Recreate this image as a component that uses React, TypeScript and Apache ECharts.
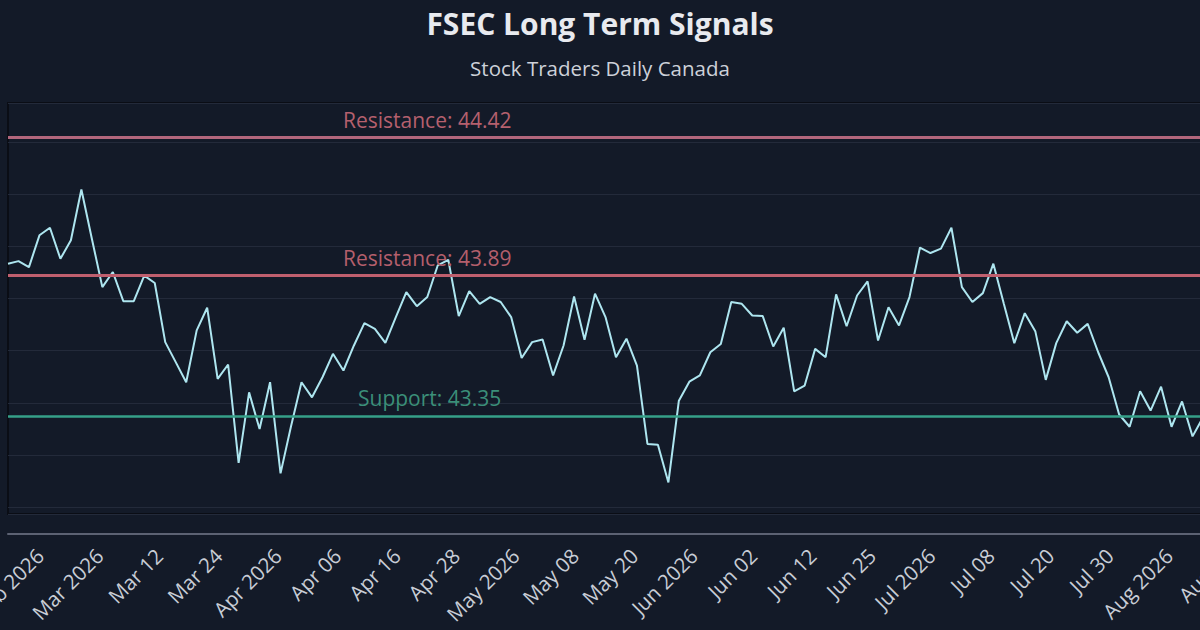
import React, { useEffect, useRef } from "react";
import * as echarts from "echarts";

const titleText = "FSEC Long Term Signals";
const subtitleText = "Stock Traders Daily Canada";

const prices = [
  43.934, 43.944, 43.921, 44.043, 44.072, 43.953, 44.024, 44.219, 44.03, 43.844,
  43.902, 43.79, 43.79, 43.888, 43.86, 43.633, 43.556, 43.479, 43.678, 43.765,
  43.492, 43.547, 43.169, 43.44, 43.299, 43.479, 43.129, 43.31, 43.479, 43.421,
  43.498, 43.588, 43.524, 43.62, 43.706, 43.684, 43.63, 43.729, 43.825, 43.771,
  43.806, 43.928, 43.949, 43.733, 43.829, 43.78, 43.806, 43.787, 43.729, 43.572,
  43.633, 43.643, 43.505, 43.62, 43.808, 43.642, 43.819, 43.729, 43.575, 43.646,
  43.543, 43.242, 43.239, 43.094, 43.408, 43.481, 43.505, 43.594, 43.626, 43.787,
  43.78, 43.735, 43.733, 43.616, 43.688, 43.444, 43.466, 43.607, 43.575, 43.816,
  43.694, 43.812, 43.866, 43.639, 43.767, 43.697, 43.806, 43.996, 43.975, 43.992,
  44.072, 43.844, 43.787, 43.821, 43.934, 43.78, 43.629, 43.744, 43.675, 43.488,
  43.629, 43.713, 43.669, 43.703, 43.594, 43.498, 43.355, 43.308, 43.444, 43.37,
  43.462, 43.308, 43.405, 43.271, 43.344,
];

const tickLabels = [
  "Feb 2026", "Mar 2026", "Mar 12", "Mar 24", "Apr 2026", "Apr 06", "Apr 16",
  "Apr 28", "May 2026", "May 08", "May 20", "Jun 2026", "Jun 02", "Jun 12",
  "Jun 25", "Jul 2026", "Jul 08", "Jul 20", "Jul 30", "Aug 2026", "Aug 11",
];

const levelNames = ["Resistance", "Resistance", "Support"];
const levelValues = [44.42, 43.89, 43.35];
const levelLineColors = ["#b2667c", "#bf5f6e", "#36a089"];
const levelTextColors = ["#b5606e", "#b45f6c", "#3b8f79"];
const levelLabelShift = [335, 335, 350];

const yMin = 42.973;
const yMax = 44.551;

const FONT = "'Open Sans', 'Noto Sans', sans-serif";

export default function App() {
  const ref = useRef<HTMLDivElement>(null);

  useEffect(() => {
    if (!ref.current) return;
    const chart = echarts.init(ref.current, undefined, { renderer: "svg" });
    const xIdx = prices.map((_, i) => String(i));

    const markData = levelValues.map((v, i) => ({
      yAxis: v,
      name: levelNames[i],
      lineStyle: { color: levelLineColors[i], width: i === 2 ? 2.5 : 3, type: "solid" },
      label: {
        show: true,
        position: "insideStartTop",
        distance: [levelLabelShift[i], 7],
        formatter: `${levelNames[i]}: ${v.toFixed(2)}`,
        color: levelTextColors[i],
        fontSize: 21,
        fontFamily: FONT,
      },
    }));

    chart.setOption({
      animation: false,
      backgroundColor: "#131a28",
      title: {
        text: titleText,
        subtext: subtitleText,
        left: "center",
        top: 3,
        itemGap: 19,
        textStyle: { color: "#e8eaef", fontSize: 30, fontWeight: "bold", fontFamily: FONT },
        subtextStyle: { color: "#cdd1d9", fontSize: 20.5, fontFamily: FONT },
      },
      grid: [
        {
          left: 8,
          right: -3,
          top: 103,
          bottom: 116,
          show: true,
          borderColor: "#0a0d15",
          borderWidth: 2,
          backgroundColor: "transparent",
          outerBoundsMode: "none",
          containLabel: false,
        },
        {
          left: 40,
          right: -28.4,
          top: 103,
          bottom: 96,
          outerBoundsMode: "none",
          containLabel: false,
        },
      ],
      xAxis: [
        {
          type: "category",
          gridIndex: 0,
          data: xIdx,
          boundaryGap: false,
          offset: 20,
          axisLine: { show: true, lineStyle: { color: "#5c6273", width: 2 } },
          axisTick: { show: false },
          axisLabel: { show: false },
          splitLine: { show: false },
        },
        {
          type: "category",
          gridIndex: 1,
          data: tickLabels,
          boundaryGap: false,
          axisLine: { show: false },
          axisTick: { show: false },
          splitLine: { show: false },
          axisLabel: {
            show: true,
            interval: 0,
            rotate: 45,
            margin: 18,
            color: "#c8cdd6",
            fontSize: 20.5,
            fontFamily: FONT,
          },
        },
      ],
      yAxis: [
        {
          type: "value",
          gridIndex: 0,
          min: yMin,
          max: yMax,
          splitNumber: 8,
          axisLine: { show: false },
          axisTick: { show: false },
          axisLabel: { show: false },
          splitLine: { show: true, lineStyle: { color: "#232a3a", width: 1 } },
        },
        {
          type: "value",
          gridIndex: 1,
          min: 0,
          max: 1,
          show: false,
          splitLine: { show: false },
        },
      ],
      series: [
        {
          type: "line",
          xAxisIndex: 0,
          yAxisIndex: 0,
          data: prices,
          symbol: "none",
          lineStyle: { color: "#aee6f0", width: 2 },
          z: 3,
          markLine: {
            silent: true,
            symbol: ["none", "none"],
            data: markData,
          },
        },
      ],
    });

    return () => chart.dispose();
  }, []);

  return (
    <div
      ref={ref}
      style={{ position: "fixed", left: 0, top: 0, width: 1200, height: 630 }}
    />
  );
}
